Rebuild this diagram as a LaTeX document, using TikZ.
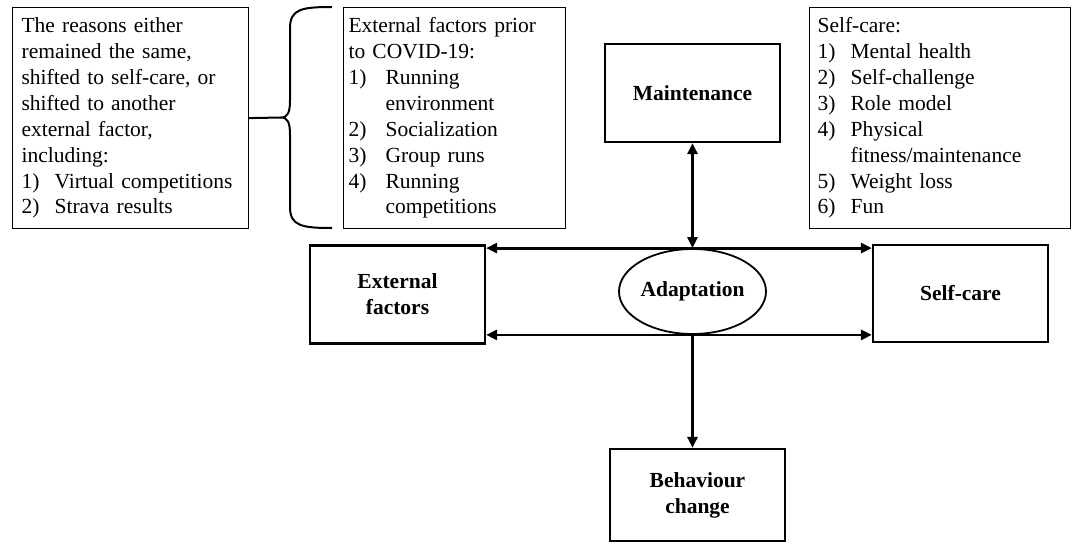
\documentclass[tikz,border=0pt]{standalone}
\usepackage{fontspec}
\setmainfont{Liberation Serif}
\usetikzlibrary{arrows.meta,shapes.geometric}
\newcommand{\lnum}[2]{\makebox[#1][l]{#2}}
\tikzset{
  txtfont/.style={font=\fontsize{21.5}{25.9}\selectfont},
  listbox/.style={draw, line width=1.2pt, txtfont, anchor=north west, align=left, inner ysep=0pt, minimum height=221pt},
  keybox/.style={draw, line width=2.2pt, font=\fontsize{21.5}{25.9}\selectfont\bfseries, align=center, minimum width=175pt, inner sep=0pt},
  arr/.style={line width=2.8pt, >={Triangle[length=11pt,width=10pt]}},
}
\begin{document}
\begin{tikzpicture}[x=1pt,y=-1pt]
\useasboundingbox (0,0) rectangle (1072,546);
\node[listbox, text width=218pt, minimum width=236pt, inner xsep=9pt] (lb) at (12,7) {\strut The reasons either\\remained the same,\\shifted to self-care, or\\shifted to another\\external factor,\\including:\\\lnum{33pt}{1)}Virtual competitions\\\lnum{33pt}{2)}Strava results\strut};
\node[listbox, text width=212pt, minimum width=222pt, inner xsep=5pt] (mb) at (343,7) {\strut External factors prior\\to COVID-19:\\\lnum{37pt}{1)}Running\\\hspace*{37pt}environment\\\lnum{37pt}{2)}Socialization\\\lnum{37pt}{3)}Group runs\\\lnum{37pt}{4)}Running\\\hspace*{37pt}competitions\strut};
\node[listbox, text width=245pt, minimum width=261pt, inner xsep=8pt] (rb) at (809,7) {\strut Self-care:\\\lnum{33pt}{1)}Mental health\\\lnum{33pt}{2)}Self-challenge\\\lnum{33pt}{3)}Role model\\\lnum{33pt}{4)}Physical\\\hspace*{33pt}fitness/maintenance\\\lnum{33pt}{5)}Weight loss\\\lnum{33pt}{6)}Fun\strut};
% brace
\coordinate (tip) at (281,117.5);
\draw[line width=2pt] (lb.east) -- (tip);
\draw[line width=2pt, line join=round] (332,7) .. controls (302,7) and (290,9) .. (290,28) -- (290,100) .. controls (290,112) and (288,117.5) .. (tip) .. controls (288,117.5) and (290,123) .. (290,135) -- (290,207) .. controls (290,226) and (302,228) .. (332,228);
% key nodes
\node[keybox, minimum height=98pt] (maint) at (692.5,93) {Maintenance};
\node[keybox, minimum height=98pt] (ext) at (397.5,294.5) {External\\factors};
\node[keybox, minimum height=97pt] (sc) at (960.5,293.5) {Self-care};
\node[draw, ellipse, line width=1.8pt, minimum width=141pt, minimum height=85pt, inner sep=0pt, font=\fontsize{21.5}{25.9}\selectfont\bfseries] (ad) at (692.5,291.5) {Adaptation};
\node[keybox, minimum height=92pt] (beh) at (697.5,495) {Behaviour\\change};
% connectors
\draw[arr,<->] (ext.east |- ad.north) -- (sc.west |- ad.north);
\draw[arr,<->] (ext.east |- ad.south) -- (sc.west |- ad.south);
\draw[arr,<->] (maint.south) -- (ad.north);
\draw[arr,->] (ad.south) -- (ad.south |- beh.north);
\end{tikzpicture}
\end{document}
